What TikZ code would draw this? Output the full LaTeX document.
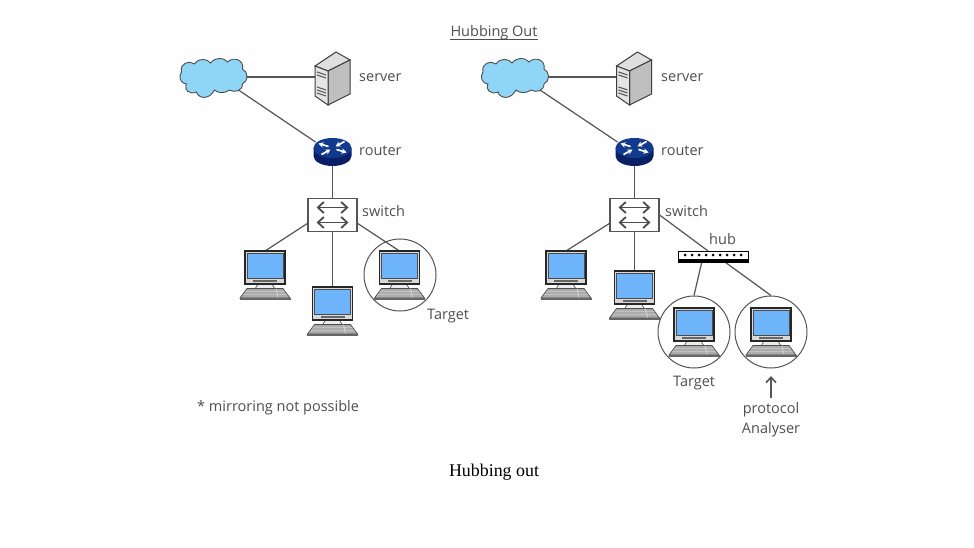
\documentclass[tikz,border=0pt]{standalone}
\usepackage{fontspec}
\setmainfont{Liberation Serif}
\newfontfamily\lblfont{Open Sans}
\usetikzlibrary{arrows.meta,calc}
\definecolor{ink}{HTML}{4F4F4F}
\definecolor{linec}{HTML}{555555}
\definecolor{cloudblue}{HTML}{8FD6F6}
\definecolor{screenblue}{HTML}{6DB4FA}
\definecolor{routerblue}{HTML}{123A8C}
\definecolor{routerdark}{HTML}{0A1F66}
\definecolor{pagebg}{HTML}{FEFEFE}
\tikzset{
  x=1pt,y=-1pt,
  lbl/.style={font=\lblfont\fontsize{14.5}{18}\selectfont,text=ink,inner sep=0pt},
  conn/.style={draw=linec,line width=1.2pt},
  anchorbox/.style={inner sep=0pt,outer sep=0pt,minimum width=#1},
  pcbox/.style={inner sep=0pt,outer sep=0pt,minimum width=40pt,minimum height=33pt},
  ringc/.style={circle,draw=linec,line width=1pt,minimum size=72pt,inner sep=0pt},
  switchbox/.style={draw=linec,line width=1.1pt,fill=white,minimum width=49pt,minimum height=32.5pt,inner sep=0pt},
  pcpic/.pic={
    % stand
    \fill[gray!15,draw=black!65,line width=.7pt] (-7,33) -- (7,33) -- (10,38) -- (-10,38) -- cycle;
    % keyboard
    \fill[gray!65,draw=black!70,line width=.7pt] (-18,37.5) -- (18,37.5) -- (25,47) -- (-25,47) -- cycle;
    \fill[gray!35,draw=black!60,line width=.4pt] (-25,47) rectangle (25,48.5);
    \draw[white!85!gray,line width=.4pt] (-20,40.5) -- (20,40.5) (-22,43.5) -- (22,43.5) (11,37.5) -- (13,46.5);
    % monitor
    \fill[gray!30,draw=black!85,line width=1.2pt] (-20,0) rectangle (20,33);
    \fill[screenblue,draw=black!70,line width=.8pt] (-18,2.5) rectangle (18,27);
    \fill[black!60] (-12,28.5) rectangle (12,31);
  },
  serverpic/.pic={
    \fill[gray!25,draw=black!75,line width=1pt] (-18,-13) -- (3,-27) -- (17,-19) -- (-5,-8) -- cycle;
    \fill[gray!50,draw=black!75,line width=1pt] (-5,-8) -- (17,-19) -- (17,15) -- (-5,26) -- cycle;
    \fill[gray!20,draw=black!75,line width=1pt] (-18,-13) -- (-5,-8) -- (-5,26) -- (-18,17) -- cycle;
    \draw[black!65,line width=1.1pt] (-16,-7) -- (-7,-4) (-16,-4) -- (-7,-1) (-16,8) -- (-7,11) (-16,11) -- (-7,14) (-16,14) -- (-7,17);
  },
  routerpic/.pic={
    \fill[routerdark] (-19,-4) -- (-19,4) arc[start angle=180,end angle=0,x radius=19,y radius=10] -- (19,-4) -- cycle;
    \fill[routerblue] (0,-4) ellipse[x radius=19,y radius=10];
    \begin{scope}[shift={(0,-4)},white,line width=1.7pt,-{Stealth[length=5pt,width=5.5pt]}]
      \draw (-4,-1.5) -- (-14,-4.5);
      \draw (12,-6.5) -- (3,-1.5);
      \draw (-11,6.5) -- (-2,1.5);
      \draw (4,1.5) -- (14,4.5);
    \end{scope}
  },
  cloudpic/.pic={
    \fill[cloudblue,draw=black!70,line width=.9pt]
      (-32,-6) .. controls (-34,-15) and (-24,-18) .. (-19,-14)
      .. controls (-14,-21) and (-6,-19) .. (-3,-15)
      .. controls (2,-21) and (10,-21) .. (14,-16)
      .. controls (20,-22) and (31,-18) .. (29,-9)
      .. controls (35,-6) and (35,3) .. (29,6)
      .. controls (29,13) and (21,15) .. (16,12)
      .. controls (11,16) and (4,15) .. (1,12)
      .. controls (-4,22) and (-15,21) .. (-17,14)
      .. controls (-24,17) and (-30,12) .. (-27,6)
      .. controls (-34,5) and (-35,-2) .. (-32,-6) -- cycle;
  },
  switchpic/.pic={
    \foreach \yy in {-7.5,7.5}{
      \draw[black!70,line width=1.8pt,{Straight Barb[length=6pt,width=11pt]}-{Straight Barb[length=6pt,width=11pt]}] (-16,\yy) -- (16,\yy);}
  }
}
\begin{document}
\begin{tikzpicture}
\useasboundingbox (0,0) rectangle (974,548);
\fill[white] (0,0) rectangle (974,548);
\fill[pagebg] (172,12) rectangle (800,441);

% anchor nodes
\node[anchorbox=60pt,minimum height=36pt] (cloudL) at (213.5,77) {};
\node[anchorbox=36pt,minimum height=54pt] (serverL) at (333,77) {};
\node[anchorbox=38pt,minimum height=28pt] (routerL) at (332.5,152) {};
\node[switchbox] (switchL) at (332.5,215) {};
\node[pcbox] (pcLa) at (265,267.5) {};
\node[pcbox] (pcLb) at (332.5,303.5) {};
\node[pcbox] (pcLc) at (399.5,267.5) {};
\node[ringc] (ringL) at (400,275) {};

\node[anchorbox=60pt,minimum height=36pt] (cloudR) at (515,77) {};
\node[anchorbox=36pt,minimum height=54pt] (serverR) at (634.5,77) {};
\node[anchorbox=38pt,minimum height=28pt] (routerR) at (634.5,152) {};
\node[switchbox] (switchR) at (634.5,215) {};
\node[pcbox] (pcRa) at (566,267.5) {};
\node[pcbox] (pcRb) at (634.5,287.5) {};
\node[pcbox] (pcRc) at (694,324.5) {};
\node[pcbox] (pcRd) at (771,324.5) {};
\node[ringc] (ringRc) at (694,332) {};
\node[ringc] (ringRd) at (771,332) {};
\node[inner sep=0pt,outer sep=0pt,minimum width=70pt,minimum height=11pt] (hubR) at (713,256.5) {};

% connectors
\draw[conn] (cloudL.east) -- (serverL.west);
\draw[conn] ($(cloudL.south east)+(-5,-5)$) -- ($(routerL.north west)+(2,4)$);
\draw[conn] (routerL.south) -- (routerL.south |- switchL.north);
\draw[conn] ($(switchL.south west)!.25!(switchL.north west)$) -- (pcLa.north);
\draw[conn] (switchL.south) -- (pcLb.north);
\draw[conn] ($(switchL.south east)!.25!(switchL.north east)$) -- (pcLc.north);

\draw[conn] (cloudR.east) -- (serverR.west);
\draw[conn] ($(cloudR.south east)+(-5,-5)$) -- ($(routerR.north west)+(2,4)$);
\draw[conn] (routerR.south) -- (routerR.south |- switchR.north);
\draw[conn] ($(switchR.south west)!.25!(switchR.north west)$) -- (pcRa.north);
\draw[conn] (switchR.south) -- (pcRb.north);
\draw[conn] ($(switchR.south east)!.5!(switchR.north east)$) -- ($(hubR.north west)!.43!(hubR.north east)$);
\draw[conn] ($(hubR.south west)!.34!(hubR.south east)$) -- (ringRc.north);
\draw[conn] ($(hubR.south west)!.67!(hubR.south east)$) -- (ringRd.north);

% icons
\pic at ($(cloudL)+(0,1)$) {cloudpic};
\pic at ($(serverL)+(0,2)$) {serverpic};
\pic at (routerL) {routerpic};
\pic at (switchL) {switchpic};
\pic at (pcLa.north) {pcpic};
\pic at (pcLb.north) {pcpic};
\pic at (pcLc.north) {pcpic};

\pic at ($(cloudR)+(0,1)$) {cloudpic};
\pic at ($(serverR)+(0,2)$) {serverpic};
\pic at (routerR) {routerpic};
\pic at (switchR) {switchpic};
\pic at (pcRa.north) {pcpic};
\pic at (pcRb.north) {pcpic};
\pic at (pcRc.north) {pcpic};
\pic at (pcRd.north) {pcpic};

% hub
\draw[fill=white,draw=black,line width=.9pt] (hubR.north west) rectangle (hubR.south east);
\fill[black] ($(hubR.south west)+(0,-3)$) rectangle (hubR.south east);
\foreach \i in {0,...,8}{\fill[black] ($(hubR.west)+(7+\i*7,-1.5)$) circle (1.5);}

% labels
\node[lbl,anchor=west] (lblSrvL) at (359,77.5) {server};
\node[lbl,anchor=west] (lblRtrL) at (359,150.5) {router};
\node[lbl,anchor=west] (lblSwL) at (362,211) {switch};
\node[lbl,anchor=west] (lblTgtL) at (427,316.5) {Target};
\node[lbl,anchor=west] (lblMir) at (197,408) {* mirroring not possible};

\node[lbl,anchor=west] (lblSrvR) at (661,77.5) {server};
\node[lbl,anchor=west] (lblRtrR) at (661,150.5) {router};
\node[lbl,anchor=west] (lblSwR) at (665,211) {switch};
\node[lbl,anchor=west] (lblHub) at (709,239) {hub};
\node[lbl,anchor=west] (lblTgtR) at (673,383.5) {Target};
\node[lbl,align=center,font=\lblfont\fontsize{14.5}{20}\selectfont] (lblProto) at (771,419.5) {protocol\\Analyser};
\draw[conn,-{Straight Barb[length=5.5pt,width=10pt,line width=1.6pt]}] (771,398) coordinate (arrBase) -- (771,376);

\node[lbl] (title) at (494,33) {Hubbing Out};
\draw[draw=ink,line width=.9pt] ($(title.base west)+(0,3)$) -- ($(title.base east)+(0,3)$);
\node[inner sep=0pt,text=black,font=\fontsize{17.9}{20}\selectfont] (caption) at (494,472) {Hubbing out};
\end{tikzpicture}
\end{document}
